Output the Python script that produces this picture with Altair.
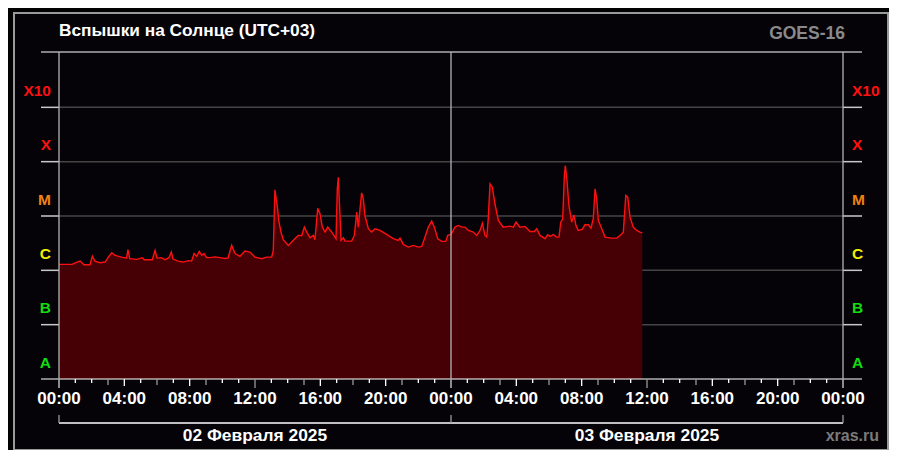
import altair as alt
import pandas as pd

# --- data (hours since 02 Feb 00:00, flux W/m^2) ---
hours = [0.00, 0.80, 1.10, 1.29, 1.53, 1.90, 2.04, 2.20, 2.51, 2.82,
         3.02, 3.23, 3.43, 3.84, 4.14, 4.22, 4.33, 4.76, 5.10, 5.22,
         5.71, 5.88, 6.00, 6.25, 6.49, 6.73, 6.88, 6.98, 7.30, 7.61,
         7.92, 8.12, 8.27, 8.43, 8.59, 8.74, 8.88, 9.04, 9.24, 9.55,
         9.86, 10.16, 10.35, 10.57, 10.78, 11.08, 11.39, 11.69, 12.00, 12.41,
         12.72, 13.02, 13.12, 13.22, 13.37, 13.47, 13.59, 13.73, 14.04, 14.35,
         14.65, 14.86, 15.02, 15.17, 15.37, 15.57, 15.67, 15.84, 15.98, 16.12,
         16.29, 16.45, 16.70, 16.96, 17.04, 17.10, 17.19, 17.27, 17.41, 17.51,
         17.92, 18.08, 18.23, 18.33, 18.43, 18.53, 18.63, 18.73, 18.94, 19.14,
         19.35, 19.65, 20.06, 20.47, 20.77, 20.88, 21.08, 21.39, 21.69, 22.00,
         22.21, 22.37, 22.61, 22.82, 22.98, 23.19, 23.43, 23.68, 23.80, 24.00,
         24.24, 24.45, 24.66, 24.86, 25.06, 25.37, 25.57, 25.78, 25.92, 26.08,
         26.19, 26.28, 26.39, 26.53, 26.69, 26.90, 27.20, 27.61, 27.82, 27.98,
         28.22, 28.53, 28.84, 29.10, 29.25, 29.45, 29.76, 29.92, 30.06, 30.26,
         30.47, 30.61, 30.72, 30.84, 30.94, 31.00, 31.10, 31.22, 31.39, 31.53,
         31.65, 31.79, 32.04, 32.20, 32.41, 32.57, 32.71, 32.82, 32.92, 33.02,
         33.23, 33.43, 33.84, 34.15, 34.35, 34.55, 34.70, 34.82, 34.96, 35.16,
         35.37, 35.57, 35.71]
flux = [1.29e-6, 1.29e-6, 1.42e-6, 1.48e-6, 1.27e-6, 1.27e-6, 1.83e-6, 1.48e-6, 1.38e-6, 1.42e-6,
        1.75e-6, 2.11e-6, 1.89e-6, 1.75e-6, 1.68e-6, 2.40e-6, 1.64e-6, 1.59e-6, 1.71e-6, 1.57e-6,
        1.57e-6, 2.33e-6, 1.68e-6, 1.71e-6, 1.57e-6, 1.71e-6, 2.17e-6, 1.61e-6, 1.48e-6, 1.42e-6,
        1.51e-6, 1.48e-6, 2.03e-6, 1.81e-6, 2.23e-6, 1.89e-6, 2.03e-6, 1.71e-6, 1.71e-6, 1.77e-6,
        1.71e-6, 1.65e-6, 1.70e-6, 2.88e-6, 2.03e-6, 1.81e-6, 2.26e-6, 2.17e-6, 1.75e-6, 1.64e-6,
        1.75e-6, 1.75e-6, 2.33e-6, 3.03e-5, 1.45e-5, 7.71e-6, 5.05e-6, 3.66e-6, 2.88e-6, 3.56e-6,
        4.39e-6, 4.39e-6, 6.24e-6, 5.05e-6, 3.99e-6, 4.39e-6, 3.66e-6, 1.39e-5, 1.10e-5, 6.24e-6,
        5.05e-6, 6.24e-6, 5.05e-6, 3.82e-6, 3.17e-5, 5.17e-5, 1.26e-5, 3.56e-6, 3.99e-6, 3.45e-6,
        3.45e-6, 4.39e-6, 1.18e-5, 6.24e-6, 1.36e-5, 2.67e-5, 2.07e-5, 1.02e-5, 5.83e-6, 5.05e-6,
        5.83e-6, 5.43e-6, 4.58e-6, 3.82e-6, 3.56e-6, 3.92e-6, 3.00e-6, 2.68e-6, 2.88e-6, 2.68e-6,
        2.76e-6, 3.82e-6, 6.24e-6, 8.04e-6, 6.24e-6, 3.82e-6, 3.41e-6, 3.41e-6, 4.39e-6, 4.58e-6,
        6.24e-6, 6.71e-6, 6.24e-6, 6.24e-6, 5.43e-6, 5.05e-6, 4.39e-6, 5.43e-6, 7.39e-6, 4.39e-6,
        4.09e-6, 8.90e-6, 3.91e-5, 3.39e-5, 1.68e-5, 8.29e-6, 6.24e-6, 6.51e-6, 6.24e-6, 7.71e-6,
        6.24e-6, 6.43e-6, 5.20e-6, 5.20e-6, 5.83e-6, 4.39e-6, 3.82e-6, 4.53e-6, 4.21e-6, 4.53e-6,
        4.09e-6, 4.09e-6, 7.71e-6, 8.90e-6, 5.56e-5, 8.48e-5, 4.50e-5, 1.56e-5, 7.71e-6, 1.05e-5,
        6.71e-6, 5.43e-6, 5.66e-6, 6.91e-6, 6.91e-6, 5.98e-6, 8.90e-6, 3.17e-5, 2.07e-5, 8.29e-6,
        5.83e-6, 4.09e-6, 3.92e-6, 3.92e-6, 4.39e-6, 5.05e-6, 2.39e-5, 2.22e-5, 9.53e-6, 6.24e-6,
        5.43e-6, 5.05e-6, 4.92e-6]

flux_floor = 1e-8
flux_ceiling = 1e-2

class_labels = ["A", "B", "C", "M", "X", "X10"]
class_pos = [2e-8, 2e-7, 2e-6, 2e-5, 2e-4, 2e-3]
class_colors = ["#11dd11", "#11dd11", "#f0f000", "#f08010", "#ff1010", "#ff1010"]
grid_levels = [1e-7, 1e-6, 1e-5, 1e-4, 1e-3]

tick_hours = [0, 4, 8, 12, 16, 20, 24, 28, 32, 36, 40, 44, 48]
tick_labels = ["00:00", "04:00", "08:00", "12:00", "16:00", "20:00", "00:00",
               "04:00", "08:00", "12:00", "16:00", "20:00", "00:00"]
day_hours = [12, 36]
day_labels = ["02 Февраля 2025", "03 Февраля 2025"]
day_edges = [0, 24, 48]

title_text = "Вспышки на Солнце (UTC+03)"
source_text = "GOES-16"
site_text = "xras.ru"

W, H = 784, 326
FONT = "Liberation Sans"

df = pd.DataFrame({"h": hours, "f": flux, "base": [flux_floor] * len(hours)})
classes = pd.DataFrame({"lab": class_labels, "pos": class_pos, "col": class_colors})
grid = pd.DataFrame({"lev": grid_levels})
ticks = pd.DataFrame({"h": tick_hours, "lab": tick_labels})
days = pd.DataFrame({"h": day_hours, "lab": day_labels})
edges = pd.DataFrame({"h": day_edges})
span = pd.DataFrame({"h": [day_edges[0]], "h2": [day_edges[-1]]})
all_h = list(range(0, 49))
minor = pd.DataFrame({"h": [h for h in all_h if h % 3 != 0 and h % 4 != 0]})
three = pd.DataFrame({"h": [h for h in all_h if h % 3 == 0 and h % 4 != 0]})
four = pd.DataFrame({"h": [h for h in all_h if h % 4 == 0 and h % 12 != 0]})
twelve = pd.DataFrame({"h": [h for h in all_h if h % 12 == 0]})
one = pd.DataFrame({"a": [0]})

xs = alt.Scale(domain=[0, 48], nice=False, zero=False)
ys = alt.Scale(type="log", domain=[flux_floor, flux_ceiling], nice=False)

X = alt.X("h:Q", scale=xs, axis=None)

frame = alt.Chart(one).mark_rect(fill="#050308", stroke="#9a9a9a", strokeWidth=2).encode(
    x=alt.value(-45), x2=alt.value(829), y=alt.value(-40), y2=alt.value(397))

grid_in = alt.Chart(grid).mark_rule(color="#444444", strokeWidth=1.5).encode(
    y=alt.Y("lev:Q", scale=ys, axis=None), x=alt.value(0), x2=alt.value(W))
grid_l = alt.Chart(grid).mark_rule(color="#c8c8c8", strokeWidth=1.5).encode(
    y=alt.Y("lev:Q", scale=ys, axis=None), x=alt.value(-18), x2=alt.value(0))
grid_r = alt.Chart(grid).mark_rule(color="#c8c8c8", strokeWidth=1.5).encode(
    y=alt.Y("lev:Q", scale=ys, axis=None), x=alt.value(W), x2=alt.value(W + 19))

top_line = alt.Chart(one).mark_rule(color="#ffffff", strokeWidth=1.2).encode(
    y=alt.value(-1), x=alt.value(-18), x2=alt.value(W + 19))
bottom_line = alt.Chart(one).mark_rule(color="#ffffff", strokeWidth=1.2).encode(
    y=alt.value(H), x=alt.value(-18), x2=alt.value(W + 19))

area = alt.Chart(df).mark_area(color="#460005", opacity=1).encode(
    x=X,
    y=alt.Y("f:Q", scale=ys, axis=None),
    y2="base:Q")
line = alt.Chart(df).mark_line(color="#ff1010", strokeWidth=1.4).encode(
    x=X,
    y=alt.Y("f:Q", scale=ys, axis=None))

vlines = alt.Chart(edges).mark_rule(color="#b4b4b4", strokeWidth=1.3).encode(
    x=X, y=alt.value(-1), y2=alt.value(H + 9))

def tick_layer(d, color, length):
    return alt.Chart(d).mark_rule(color=color, strokeWidth=1.3).encode(
        x=X, y=alt.value(H), y2=alt.value(H + length))

t_minor = tick_layer(minor, "#ffffff", 4)
t_three = tick_layer(three, "#9a9a9a", 6)
t_four = tick_layer(four, "#ffffff", 7)
t_twelve = tick_layer(twelve, "#9a9a9a", 9)

tick_text = alt.Chart(ticks).mark_text(
    font=FONT, fontSize=17, fontWeight="bold", color="#ffffff", baseline="middle", align="center"
).encode(x=X, y=alt.value(H + 20), text="lab:N")

bracket_h = alt.Chart(span).mark_rule(color="#ffffff", strokeWidth=1.3).encode(
    x=X, x2="h2:Q", y=alt.value(370))
bracket_v = alt.Chart(edges).mark_rule(color="#9a9a9a", strokeWidth=1.3).encode(
    x=X, y=alt.value(362), y2=alt.value(370))

day_text = alt.Chart(days).mark_text(
    font=FONT, fontSize=17.4, fontWeight="bold", color="#ffffff", baseline="middle", align="center"
).encode(x=X, y=alt.value(383), text="lab:N")

cls_left = alt.Chart(classes).mark_text(
    font=FONT, fontSize=15.5, fontWeight="bold", baseline="middle", align="right"
).encode(y=alt.Y("pos:Q", scale=ys, axis=None), x=alt.value(-8), text="lab:N",
         color=alt.Color("col:N", scale=None, legend=None))
cls_right = alt.Chart(classes).mark_text(
    font=FONT, fontSize=15.5, fontWeight="bold", baseline="middle", align="left"
).encode(y=alt.Y("pos:Q", scale=ys, axis=None), x=alt.value(W + 9), text="lab:N",
         color=alt.Color("col:N", scale=None, legend=None))

title = alt.Chart(one).mark_text(
    font=FONT, fontSize=17.3, fontWeight="bold", color="#ffffff", baseline="middle", align="left",
    text=title_text).encode(x=alt.value(0), y=alt.value(-22))
source = alt.Chart(one).mark_text(
    font=FONT, fontSize=17.5, fontWeight="bold", color="#8a8a8a", baseline="middle", align="right",
    text=source_text).encode(x=alt.value(786), y=alt.value(-19))
site = alt.Chart(one).mark_text(
    font=FONT, fontSize=16, fontWeight="bold", color="#7a7a7a", baseline="middle", align="right",
    text=site_text).encode(x=alt.value(820), y=alt.value(383))

chart = alt.layer(
    frame, grid_in, grid_l, grid_r, area, line, top_line, bottom_line, vlines,
    t_minor, t_three, t_four, t_twelve, tick_text, bracket_h, bracket_v, day_text,
    cls_left, cls_right, title, source, site
).properties(
    width=W, height=H,
    padding={"left": 51, "top": 45, "right": 46, "bottom": 71},
    autosize=alt.AutoSizeParams(type="none"),
    background="#020202",
).configure_view(stroke=None)

chart.save("out.html", embed_options={"renderer": "svg", "actions": False})
